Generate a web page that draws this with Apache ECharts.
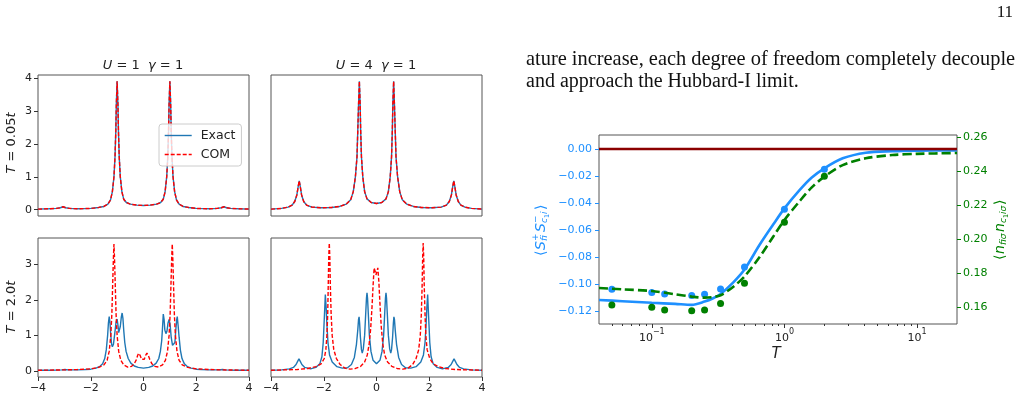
<!DOCTYPE html>
<html><head><meta charset="utf-8">
<script src="https://cdn.jsdelivr.net/npm/echarts@6/dist/echarts.min.js"></script>
<style>html,body{margin:0;padding:0;background:#fff}#c{width:1022px;height:396px}</style>
</head><body><div id="c"></div>
<script>
// ---------- Left: spectral functions (x = omega, y = A) ----------
const exactU1T005 = [[-4,0.02],[-3.6,0.03],[-3.3,0.04],[-3.15,0.06],[-3.05,0.09],[-2.95,0.06],[-2.8,0.04],[-2.5,0.03],[-2.0,0.04],[-1.7,0.07],[-1.5,0.1],[-1.35,0.17],[-1.25,0.3],[-1.18,0.55],[-1.12,1.0],[-1.08,1.6],[-1.05,2.4],[-1.03,3.2],[-1.0,3.9],[-0.97,3.2],[-0.95,2.4],[-0.92,1.6],[-0.88,1.0],[-0.82,0.55],[-0.75,0.32],[-0.65,0.22],[-0.5,0.17],[-0.25,0.14],[0,0.13],[0.25,0.14],[0.5,0.17],[0.65,0.22],[0.75,0.32],[0.82,0.55],[0.88,1.0],[0.92,1.6],[0.95,2.4],[0.97,3.2],[1.0,3.9],[1.03,3.2],[1.05,2.4],[1.08,1.6],[1.12,1.0],[1.18,0.55],[1.25,0.3],[1.35,0.17],[1.5,0.1],[1.7,0.07],[2.0,0.04],[2.5,0.03],[2.8,0.04],[2.95,0.06],[3.05,0.09],[3.15,0.06],[3.3,0.04],[3.6,0.03],[4,0.02]];
const comU1T005 = [[-4,0.02],[-3.6,0.03],[-3.3,0.04],[-3.15,0.06],[-3.05,0.09],[-2.95,0.06],[-2.8,0.04],[-2.5,0.03],[-2.0,0.04],[-1.7,0.07],[-1.5,0.1],[-1.35,0.17],[-1.25,0.3],[-1.18,0.55],[-1.12,1.0],[-1.08,1.6],[-1.05,2.4],[-1.03,3.2],[-1.0,3.9],[-0.97,3.2],[-0.95,2.4],[-0.92,1.6],[-0.88,1.0],[-0.82,0.55],[-0.75,0.32],[-0.65,0.22],[-0.5,0.17],[-0.25,0.14],[0,0.13],[0.25,0.14],[0.5,0.17],[0.65,0.22],[0.75,0.32],[0.82,0.55],[0.88,1.0],[0.92,1.6],[0.95,2.4],[0.97,3.2],[1.0,3.9],[1.03,3.2],[1.05,2.4],[1.08,1.6],[1.12,1.0],[1.18,0.55],[1.25,0.3],[1.35,0.17],[1.5,0.1],[1.7,0.07],[2.0,0.04],[2.5,0.03],[2.8,0.04],[2.95,0.06],[3.05,0.09],[3.15,0.06],[3.3,0.04],[3.6,0.03],[4,0.02]];
const exactU4T005 = [[-4,0.02],[-3.6,0.04],[-3.35,0.08],[-3.2,0.14],[-3.1,0.25],[-3.02,0.45],[-2.97,0.7],[-2.93,0.88],[-2.89,0.7],[-2.84,0.45],[-2.76,0.25],[-2.65,0.14],[-2.45,0.08],[-2.1,0.06],[-1.7,0.07],[-1.4,0.1],[-1.15,0.17],[-0.98,0.3],[-0.88,0.55],[-0.8,1.0],[-0.74,1.6],[-0.71,2.4],[-0.68,3.2],[-0.65,3.9],[-0.62,3.2],[-0.6,2.4],[-0.57,1.6],[-0.52,1.0],[-0.45,0.55],[-0.36,0.33],[-0.2,0.22],[0,0.19],[0.2,0.22],[0.36,0.33],[0.45,0.55],[0.52,1.0],[0.57,1.6],[0.6,2.4],[0.62,3.2],[0.65,3.9],[0.68,3.2],[0.71,2.4],[0.74,1.6],[0.8,1.0],[0.88,0.55],[0.98,0.3],[1.15,0.17],[1.4,0.1],[1.7,0.07],[2.1,0.06],[2.45,0.08],[2.65,0.14],[2.76,0.25],[2.84,0.45],[2.89,0.7],[2.93,0.88],[2.97,0.7],[3.02,0.45],[3.1,0.25],[3.2,0.14],[3.35,0.08],[3.6,0.04],[4,0.02]];
const comU4T005 = [[-4,0.02],[-3.6,0.04],[-3.35,0.08],[-3.2,0.14],[-3.1,0.25],[-3.02,0.45],[-2.97,0.7],[-2.93,0.88],[-2.89,0.7],[-2.84,0.45],[-2.76,0.25],[-2.65,0.14],[-2.45,0.08],[-2.1,0.06],[-1.7,0.07],[-1.4,0.1],[-1.15,0.17],[-0.98,0.3],[-0.88,0.55],[-0.8,1.0],[-0.74,1.6],[-0.71,2.4],[-0.68,3.2],[-0.65,3.9],[-0.62,3.2],[-0.6,2.4],[-0.57,1.6],[-0.52,1.0],[-0.45,0.55],[-0.36,0.33],[-0.2,0.22],[0,0.19],[0.2,0.22],[0.36,0.33],[0.45,0.55],[0.52,1.0],[0.57,1.6],[0.6,2.4],[0.62,3.2],[0.65,3.9],[0.68,3.2],[0.71,2.4],[0.74,1.6],[0.8,1.0],[0.88,0.55],[0.98,0.3],[1.15,0.17],[1.4,0.1],[1.7,0.07],[2.1,0.06],[2.45,0.08],[2.65,0.14],[2.76,0.25],[2.84,0.45],[2.89,0.7],[2.93,0.88],[2.97,0.7],[3.02,0.45],[3.1,0.25],[3.2,0.14],[3.35,0.08],[3.6,0.04],[4,0.02]];
const exactU1T2 = [[-4,0.02],[-3.5,0.02],[-3.1,0.03],[-2.98,0.04],[-2.85,0.03],[-2.5,0.03],[-2.2,0.04],[-2.0,0.05],[-1.8,0.08],[-1.65,0.13],[-1.55,0.2],[-1.47,0.35],[-1.41,0.6],[-1.36,1.0],[-1.33,1.35],[-1.30,1.53],[-1.27,1.35],[-1.24,1.0],[-1.21,0.75],[-1.18,0.68],[-1.14,0.75],[-1.09,1.05],[-1.04,1.38],[-1.0,1.46],[-0.97,1.3],[-0.94,1.08],[-0.91,1.05],[-0.88,1.25],[-0.84,1.52],[-0.81,1.63],[-0.78,1.48],[-0.75,1.15],[-0.71,0.8],[-0.66,0.55],[-0.58,0.35],[-0.48,0.22],[-0.35,0.14],[-0.2,0.1],[0,0.08],[0.2,0.1],[0.35,0.14],[0.48,0.22],[0.58,0.35],[0.64,0.55],[0.69,0.85],[0.72,1.2],[0.75,1.6],[0.78,1.45],[0.81,1.15],[0.85,1.05],[0.89,1.12],[0.93,1.35],[0.97,1.45],[1.01,1.3],[1.05,0.95],[1.1,0.72],[1.15,0.68],[1.19,0.8],[1.23,1.2],[1.26,1.45],[1.28,1.53],[1.31,1.3],[1.35,0.95],[1.4,0.58],[1.46,0.35],[1.55,0.2],[1.65,0.13],[1.8,0.08],[2.0,0.05],[2.2,0.04],[2.5,0.03],[2.85,0.03],[3.0,0.04],[3.1,0.03],[3.5,0.02],[4,0.02]];
const comU1T2 = [[-4,0.02],[-3,0.03],[-2.5,0.04],[-2.0,0.06],[-1.7,0.1],[-1.5,0.17],[-1.38,0.3],[-1.3,0.55],[-1.24,1.0],[-1.2,1.6],[-1.17,2.4],[-1.14,3.2],[-1.12,3.57],[-1.1,3.2],[-1.07,2.4],[-1.04,1.6],[-1.0,1.0],[-0.94,0.55],[-0.86,0.3],[-0.75,0.17],[-0.6,0.11],[-0.45,0.13],[-0.35,0.2],[-0.27,0.32],[-0.22,0.44],[-0.18,0.5],[-0.13,0.44],[-0.07,0.33],[-0.02,0.3],[0.03,0.33],[0.08,0.44],[0.13,0.5],[0.18,0.44],[0.24,0.32],[0.32,0.2],[0.42,0.13],[0.57,0.11],[0.72,0.17],[0.83,0.3],[0.91,0.55],[0.97,1.0],[1.01,1.6],[1.04,2.4],[1.07,3.2],[1.09,3.57],[1.11,3.2],[1.14,2.4],[1.17,1.6],[1.21,1.0],[1.27,0.55],[1.35,0.3],[1.47,0.17],[1.67,0.1],[2.0,0.06],[2.5,0.04],[3,0.03],[4,0.02]];
const exactU4T2 = [[-4,0.02],[-3.6,0.03],[-3.3,0.06],[-3.15,0.1],[-3.05,0.18],[-2.99,0.27],[-2.94,0.34],[-2.89,0.27],[-2.83,0.18],[-2.72,0.1],[-2.5,0.06],[-2.3,0.1],[-2.15,0.2],[-2.07,0.4],[-2.02,0.8],[-1.99,1.3],[-1.96,1.8],[-1.94,2.15],[-1.91,1.8],[-1.88,1.3],[-1.84,0.8],[-1.78,0.45],[-1.68,0.25],[-1.5,0.12],[-1.3,0.08],[-1.1,0.09],[-0.95,0.18],[-0.84,0.38],[-0.76,0.75],[-0.71,1.15],[-0.68,1.45],[-0.66,1.52],[-0.64,1.35],[-0.61,0.95],[-0.57,0.6],[-0.54,0.5],[-0.5,0.62],[-0.45,1.0],[-0.41,1.6],[-0.38,2.05],[-0.36,2.2],[-0.34,2.05],[-0.31,1.6],[-0.27,1.0],[-0.21,0.55],[-0.13,0.3],[0,0.2],[0.13,0.3],[0.21,0.55],[0.27,1.0],[0.31,1.6],[0.34,2.05],[0.36,2.2],[0.38,2.05],[0.41,1.6],[0.45,1.0],[0.5,0.62],[0.54,0.5],[0.57,0.6],[0.61,0.95],[0.64,1.35],[0.66,1.52],[0.68,1.45],[0.71,1.15],[0.76,0.75],[0.84,0.38],[0.95,0.18],[1.1,0.09],[1.3,0.08],[1.5,0.12],[1.68,0.25],[1.78,0.45],[1.84,0.8],[1.88,1.3],[1.91,1.8],[1.94,2.15],[1.96,1.8],[1.99,1.3],[2.02,0.8],[2.07,0.4],[2.15,0.2],[2.3,0.1],[2.5,0.06],[2.72,0.1],[2.83,0.18],[2.89,0.27],[2.94,0.34],[2.99,0.27],[3.05,0.18],[3.15,0.1],[3.3,0.06],[3.6,0.03],[4,0.02]];
const comU4T2 = [[-4,0.02],[-3.5,0.03],[-3.0,0.04],[-2.6,0.07],[-2.3,0.12],[-2.1,0.2],[-1.98,0.35],[-1.92,0.6],[-1.88,1.0],[-1.85,1.6],[-1.83,2.4],[-1.81,3.2],[-1.79,3.6],[-1.77,3.2],[-1.75,2.4],[-1.72,1.6],[-1.68,1.0],[-1.62,0.6],[-1.52,0.35],[-1.38,0.18],[-1.2,0.08],[-1.0,0.05],[-0.8,0.07],[-0.6,0.13],[-0.45,0.25],[-0.35,0.45],[-0.28,0.75],[-0.22,1.2],[-0.17,1.8],[-0.13,2.4],[-0.09,2.9],[-0.05,2.8],[-0.02,2.7],[0.01,2.75],[0.05,2.9],[0.09,2.5],[0.13,1.9],[0.18,1.25],[0.24,0.75],[0.31,0.45],[0.42,0.25],[0.58,0.13],[0.78,0.07],[1.0,0.05],[1.2,0.08],[1.37,0.18],[1.5,0.35],[1.6,0.6],[1.66,1.0],[1.7,1.6],[1.73,2.4],[1.75,3.2],[1.77,3.6],[1.79,3.2],[1.81,2.4],[1.84,1.6],[1.87,1.0],[1.92,0.6],[2.02,0.35],[2.15,0.2],[2.35,0.12],[2.6,0.07],[3.0,0.04],[3.5,0.03],[4,0.02]];
const omegaTicks = [-4, -2, 0, 2, 4];
const aTicksTop = [0, 1, 2, 3, 4];
const aTicksBottom = [0, 1, 2, 3];

// ---------- Right: correlations vs temperature ----------
const tDots = [0.05, 0.1, 0.125, 0.2, 0.25, 0.33, 0.5, 1.0, 2.0];
const spinDots = [-0.1039, -0.1064, -0.1074, -0.1086, -0.1077, -0.1037, -0.0874, -0.0447, -0.0150];
const occDots = [0.1612, 0.1598, 0.1582, 0.1578, 0.1582, 0.1620, 0.1740, 0.2098, 0.2369];
const tLine = [0.04, 0.06, 0.1, 0.15, 0.2, 0.25, 0.29, 0.33, 0.41, 0.5, 0.65, 0.82, 1.0, 1.3, 1.6, 2.0, 2.75, 4.1, 6.5, 10, 20];
const spinLine = [-0.1119, -0.1128, -0.1140, -0.1148, -0.1155, -0.1131, -0.1106, -0.1074, -0.0990, -0.0893, -0.0710, -0.0562, -0.0440, -0.0305, -0.0213, -0.0143, -0.0069, -0.0027, -0.0016, -0.0012, -0.0010];
const occLine = [0.1712, 0.1704, 0.1694, 0.1675, 0.1661, 0.1655, 0.1659, 0.1669, 0.1718, 0.1780, 0.1894, 0.2012, 0.2112, 0.2222, 0.2302, 0.2367, 0.2435, 0.2475, 0.2494, 0.2501, 0.2506];
const hubbardLine = [[0.04, 0], [20, 0]];
const spinTicks = [-0.12, -0.10, -0.08, -0.06, -0.04, -0.02, 0.00];
const occTicks = [0.16, 0.18, 0.20, 0.22, 0.24, 0.26];
const tMajorTicks = [0.1, 1, 10];
const tMinorTicks = [0.05, 0.06, 0.07, 0.08, 0.09, 0.2, 0.3, 0.4, 0.5, 0.6, 0.7, 0.8, 0.9, 2, 3, 4, 5, 6, 7, 8, 9];

// ---------- styling ----------
const SANS = 'DejaVu Sans';
const SERIF = 'Liberation Serif';
const TXT = '#222';
const FRAME = '#555';
const BLUE = '#1f77b4';
const RED = '#ff0000';
const DBLUE = '#1e90ff';
const GREEN = '#008000';
const minus = v => String(v).replace('-', '\u2212');
const fix2 = v => (v < -1e-9 ? '\u2212' : '') + Math.abs(v).toFixed(2);
const logFmt = v => {
  const e = Math.round(Math.log10(v));
  return '{b|10}{s|' + (e < 0 ? '\u2212' + (-e) : String(e)) + '}';
};

const panelGrids = [
  {left: 38, top: 75, width: 211, height: 141},
  {left: 271, top: 75, width: 211, height: 141},
  {left: 38, top: 238, width: 211, height: 139},
  {left: 271, top: 238, width: 211, height: 139}
];
const grids = panelGrids.map(g => Object.assign({show: true, borderColor: FRAME, borderWidth: 1, backgroundColor: 'transparent', outerBoundsMode: 'none', containLabel: false}, g));
grids.push({left: 599, top: 135, width: 358, height: 189, show: true, borderColor: FRAME, borderWidth: 1, backgroundColor: 'transparent', outerBoundsMode: 'none', containLabel: false});

const xAxes = [0, 1, 2, 3].map(i => ({
  gridIndex: i, type: 'value', min: -4, max: 4, interval: 2,
  axisLine: {show: false, onZero: false}, splitLine: {show: false},
  axisTick: {show: i >= 2, length: 4, lineStyle: {color: '#333'}, customValues: omegaTicks},
  axisLabel: {show: i >= 2, margin: 6, fontSize: 11, color: TXT, fontFamily: SANS, formatter: minus, customValues: omegaTicks, showMinLabel: true, showMaxLabel: true}
}));
xAxes.push({
  gridIndex: 4, type: 'log', logBase: 10, min: 0.04, max: 20,
  axisLine: {show: false, onZero: false}, splitLine: {show: false}, axisTick: {show: false},
  axisLabel: {margin: 4, showMinLabel: false, showMaxLabel: false, formatter: logFmt,
    rich: {b: {fontSize: 11, fontFamily: SANS, color: TXT, verticalAlign: 'bottom', lineHeight: 16},
           s: {fontSize: 8, fontFamily: SANS, color: TXT, verticalAlign: 'top', lineHeight: 9}}}
});

const yAxes = [0, 1, 2, 3].map(i => {
  const top = i < 2;
  const ticks = top ? aTicksTop : aTicksBottom;
  return {
    gridIndex: i, type: 'value', min: top ? -0.19 : -0.17, max: top ? 4.09 : 3.74,
    axisLine: {show: false, onZero: false}, splitLine: {show: false},
    axisTick: {show: i % 2 === 0, length: 4, lineStyle: {color: '#333'}, customValues: ticks},
    axisLabel: {show: i % 2 === 0, margin: 6, fontSize: 11, color: TXT, fontFamily: SANS, customValues: ticks}
  };
});
yAxes.push({
  gridIndex: 4, type: 'value', position: 'left', min: -0.1297, max: 0.0104,
  axisLine: {show: false, onZero: false}, splitLine: {show: false},
  axisTick: {show: true, length: 4, lineStyle: {color: DBLUE}, customValues: spinTicks},
  axisLabel: {margin: 7, fontSize: 11, color: DBLUE, fontFamily: SANS, customValues: spinTicks, formatter: fix2}
});
yAxes.push({
  gridIndex: 4, type: 'value', position: 'right', min: 0.15, max: 0.2612,
  axisLine: {show: false, onZero: false}, splitLine: {show: false},
  axisTick: {show: true, length: 4, lineStyle: {color: GREEN}, customValues: occTicks},
  axisLabel: {margin: 6, fontSize: 11, color: GREEN, fontFamily: SANS, customValues: occTicks, formatter: fix2}
});

const panelData = [[exactU1T005, comU1T005], [exactU4T005, comU4T005], [exactU1T2, comU1T2], [exactU4T2, comU4T2]];
const series = [];
panelData.forEach((pair, i) => {
  series.push({name: 'Exact', type: 'line', xAxisIndex: i, yAxisIndex: i, data: pair[0], symbol: 'none', showSymbol: false, smooth: false, z: 2,
    lineStyle: {color: BLUE, width: 1.4}, itemStyle: {color: BLUE}});
  series.push({name: 'COM', type: 'line', xAxisIndex: i, yAxisIndex: i, data: pair[1], symbol: 'none', showSymbol: false, smooth: false, z: 3,
    lineStyle: {color: RED, width: 1.4, type: [4, 2]}, itemStyle: {color: RED}});
});
series.push({type: 'line', xAxisIndex: 4, yAxisIndex: 4, data: tLine.map((t, k) => [t, spinLine[k]]), symbol: 'none', smooth: 0.3, z: 3,
  lineStyle: {color: DBLUE, width: 2.6}});
series.push({type: 'scatter', xAxisIndex: 4, yAxisIndex: 4, data: tDots.map((t, k) => [t, spinDots[k]]), symbolSize: 7, z: 3,
  itemStyle: {color: DBLUE, opacity: 1}});
series.push({type: 'line', xAxisIndex: 4, yAxisIndex: 5, data: tLine.map((t, k) => [t, occLine[k]]), symbol: 'none', smooth: 0.3, z: 4,
  lineStyle: {color: GREEN, width: 2.6, type: [9, 4]}});
series.push({type: 'scatter', xAxisIndex: 4, yAxisIndex: 5, data: tDots.map((t, k) => [t, occDots[k]]), symbolSize: 7, z: 4,
  itemStyle: {color: GREEN, opacity: 1}});
series.push({type: 'line', xAxisIndex: 4, yAxisIndex: 4, data: hubbardLine, symbol: 'none', z: 5,
  lineStyle: {color: '#8b0000', width: 2.4}});
const tickItems = tMajorTicks.map(t => [t, 4]).concat(tMinorTicks.map(t => [t, 2]));
series.push({type: 'custom', xAxisIndex: 4, yAxisIndex: 4, data: tickItems, clip: false, silent: true, z: 6,
  renderItem: (params, api) => {
    const x = Math.round(api.coord([api.value(0), 0])[0]) + 0.5;
    const b = params.coordSys.y + params.coordSys.height;
    return {type: 'line', shape: {x1: x, y1: b, x2: x, y2: b + api.value(1)}, style: {stroke: '#333', lineWidth: 1}};
  }});

const t = (x, y, text, opts) => ({type: 'text', x, y, silent: true, style: Object.assign({text, fill: TXT, fontFamily: SANS, fontSize: 13, textAlign: 'center', textVerticalAlign: 'middle', align: 'center', verticalAlign: 'middle'}, opts || {})});
const it = {fontStyle: 'italic', fontFamily: SANS, fontSize: 13, fill: TXT, color: TXT};

function piece(x, y, text, size, italic, color) {
  return {type: 'text', x, y, silent: true, style: {text, fill: color, fontFamily: SANS, fontSize: size, fontStyle: italic ? 'italic' : 'normal', textAlign: 'left', align: 'left', textVerticalAlign: 'middle', verticalAlign: 'middle'}};
}
const spinLabel = {type: 'group', x: 541, y: 230, rotation: Math.PI / 2, silent: true, children: [
  piece(-26, 0, '\u27e8', 14, false, DBLUE),
  piece(-20, 0, 'S', 14, true, DBLUE),
  piece(-11, -5, '+', 9, false, DBLUE),
  piece(-11, 4, 'fi', 9, true, DBLUE),
  piece(-2, 0, 'S', 14, true, DBLUE),
  piece(7, -5, '\u2212', 9, false, DBLUE),
  piece(7, 4, 'c', 9, true, DBLUE),
  piece(12, 6, '1', 6.5, false, DBLUE),
  piece(16, 4, 'i', 9, true, DBLUE),
  piece(20, 0, '\u27e9', 14, false, DBLUE)
]};
const occLabel = {type: 'group', x: 1000, y: 230, rotation: Math.PI / 2, silent: true, children: [
  piece(-30, 0, '\u27e8', 14, false, GREEN),
  piece(-24, 0, 'n', 14, true, GREEN),
  piece(-15, 4, 'fi\u03c3', 9, true, GREEN),
  piece(-2, 0, 'n', 14, true, GREEN),
  piece(7, 4, 'c', 9, true, GREEN),
  piece(12, 6, '1', 6.5, false, GREEN),
  piece(16, 4, 'i\u03c3', 9, true, GREEN),
  piece(25, 0, '\u27e9', 14, false, GREEN)
]};

const graphic = [
  t(143, 66, '{i|U} = 1  {i|\u03b3} = 1', {rich: {i: it}}),
  t(376, 66, '{i|U} = 4  {i|\u03b3} = 1', {rich: {i: it}}),
  Object.assign(t(12, 143, '{i|T} = 0.05{i|t}', {rich: {i: it}}), {rotation: Math.PI / 2}),
  Object.assign(t(12, 307, '{i|T} = 2.0{i|t}', {rich: {i: it}}), {rotation: Math.PI / 2}),
  t(776, 354, 'T', {fontStyle: 'italic', fontSize: 15}),
  t(526, 60, 'ature increase, each degree of freedom completely decouple', {fontFamily: SERIF, fontSize: 20.4, textAlign: 'left', align: 'left', fill: '#111'}),
  t(526, 82, 'and approach the Hubbard-I limit.', {fontFamily: SERIF, fontSize: 20, textAlign: 'left', align: 'left', fill: '#111'}),
  t(1013, 13, '11', {fontFamily: SERIF, fontSize: 17, textAlign: 'right', align: 'right', fill: '#111'}),
  spinLabel,
  occLabel
];

const chart = echarts.init(document.getElementById('c'), null, {renderer: 'canvas', width: 1022, height: 396});
chart.setOption({
  animation: false,
  backgroundColor: '#fff',
  grid: grids,
  xAxis: xAxes,
  yAxis: yAxes,
  legend: {data: ['Exact', 'COM'], orient: 'vertical', left: 159, top: 124, itemWidth: 27, itemHeight: 10, itemGap: 6,
    padding: [5, 6, 5, 5], borderColor: '#ccc', borderWidth: 1, borderRadius: 3, backgroundColor: 'rgba(255,255,255,0.8)',
    itemStyle: {opacity: 0}, lineStyle: {width: 1.4},
    selectedMode: false, textStyle: {fontSize: 12.5, fontFamily: SANS, color: TXT, padding: [0, 0, 0, 4]}},
  graphic: graphic,
  series: series
});
</script></body></html>
